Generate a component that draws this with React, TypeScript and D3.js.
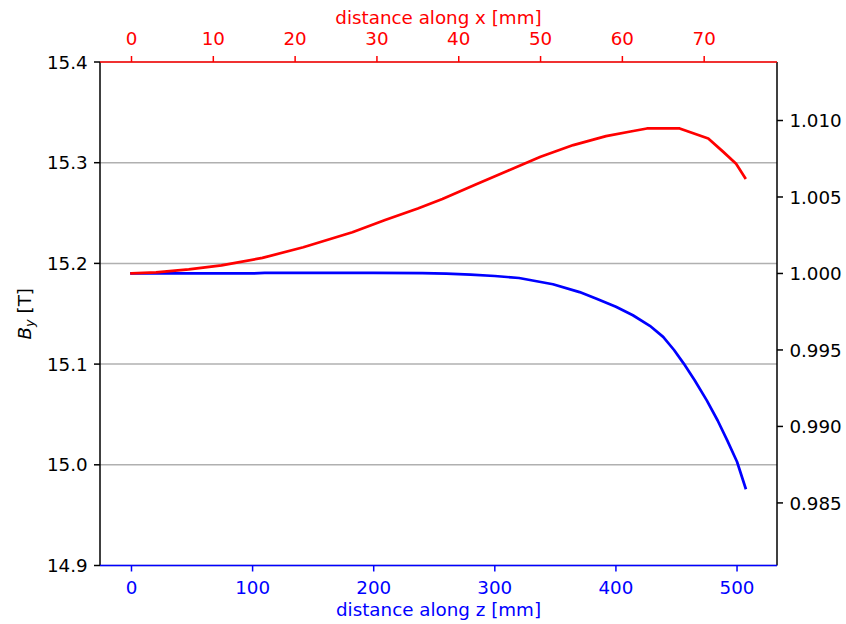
import React from "react";
import * as d3 from "d3";

// Field along z (bottom axis, blue)
const zPos = [0, 50, 100, 110, 150, 200, 240, 260, 280, 300, 320, 348, 370, 384, 400, 414, 428, 439, 448, 456, 465, 475, 484, 492, 500, 507];
const byAlongZ = [15.19, 15.19, 15.19, 15.1905, 15.1905, 15.1905, 15.1904, 15.1898, 15.1888, 15.1875, 15.1855, 15.1793, 15.1715, 15.165, 15.157, 15.1485, 15.138, 15.127, 15.114, 15.1005, 15.084, 15.064, 15.044, 15.024, 15.003, 14.977];

// Field along x (top axis, red)
const xPos = [0, 3, 7, 11, 16, 21, 27, 31, 35, 38, 42, 46, 50, 54, 58, 61, 63, 67, 70.5, 72.3, 73.9, 75];
const byAlongX = [15.19, 15.191, 15.194, 15.198, 15.2055, 15.216, 15.231, 15.243, 15.2546, 15.264, 15.278, 15.292, 15.306, 15.3175, 15.3264, 15.331, 15.334, 15.334, 15.324, 15.311, 15.299, 15.285];

const yTicks = [14.9, 15.0, 15.1, 15.2, 15.3, 15.4];
const zTicks = [0, 100, 200, 300, 400, 500];
const xTicks = [0, 10, 20, 30, 40, 50, 60, 70];
const ratioTicks = [0.985, 0.99, 0.995, 1.0, 1.005, 1.01];
const refField = 15.19;

const W = 846;
const H = 624;
const L = 100;
const R = 777;
const T = 62;
const B = 565.5;
const FONT = "'DejaVu Sans', sans-serif";
const FS = 18.3;
const TICK = 6;
const PAD = 6.4;

export default function App() {
  const zScale = d3.scaleLinear().domain([-26, 533]).range([L, R]);
  const xScale = d3.scaleLinear().domain([-3.85, 78.9]).range([L, R]);
  const yScale = d3.scaleLinear().domain([14.9, 15.4]).range([B, T]);
  const rScale = d3.scaleLinear().domain([14.9 / refField, 15.4 / refField]).range([B, T]);

  const blueLine = d3
    .line<number>()
    .x((_, i) => zScale(zPos[i]))
    .y((d) => yScale(d))(byAlongZ);
  const redLine = d3
    .line<number>()
    .x((_, i) => xScale(xPos[i]))
    .y((d) => yScale(d))(byAlongX);

  return (
    <svg
      width={W}
      height={H}
      style={{ position: "absolute", left: 0, top: 0, background: "#fff" }}
      fontFamily={FONT}
    >
      {/* grid */}
      {yTicks.map((t) => (
        <line key={"g" + t} x1={L} x2={R} y1={yScale(t)} y2={yScale(t)} stroke="#b0b0b0" strokeWidth={1.5} />
      ))}

      {/* curves */}
      <path d={blueLine || ""} fill="none" stroke="blue" strokeWidth={2.7} strokeLinejoin="round" strokeLinecap="square" />
      <path d={redLine || ""} fill="none" stroke="red" strokeWidth={2.7} strokeLinejoin="round" strokeLinecap="square" />

      {/* spines */}
      <line x1={L} x2={L} y1={T} y2={B} stroke="#000" strokeWidth={1.5} />
      <line x1={R} x2={R} y1={T} y2={B} stroke="#000" strokeWidth={1.5} />
      <line x1={L} x2={R} y1={T} y2={T} stroke="red" strokeWidth={1.5} />
      <line x1={L} x2={R} y1={B} y2={B} stroke="blue" strokeWidth={1.5} />

      {/* left axis */}
      {yTicks.map((t) => (
        <g key={"l" + t}>
          <line x1={L - TICK} x2={L} y1={yScale(t)} y2={yScale(t)} stroke="#000" strokeWidth={1.5} />
          <text x={L - TICK - PAD} y={yScale(t)} dy="0.36em" textAnchor="end" fontSize={FS} fill="#000">
            {t.toFixed(1)}
          </text>
        </g>
      ))}
      <text
        transform={`translate(30.5, ${(T + B) / 2}) rotate(-90)`}
        textAnchor="middle"
        fontSize={FS}
        fill="#000"
      >
        <tspan fontStyle="italic">B</tspan>
        <tspan fontStyle="italic" fontSize={FS * 0.7} dy="0.3em">y</tspan>
        <tspan dy="-0.21em"> [T]</tspan>
      </text>

      {/* right axis */}
      {ratioTicks.map((t) => (
        <g key={"r" + t}>
          <line x1={R} x2={R + TICK} y1={rScale(t)} y2={rScale(t)} stroke="#000" strokeWidth={1.5} />
          <text x={R + TICK + PAD} y={rScale(t)} dy="0.36em" textAnchor="start" fontSize={FS} fill="#000">
            {t.toFixed(3)}
          </text>
        </g>
      ))}

      {/* bottom axis */}
      {zTicks.map((t) => (
        <g key={"b" + t}>
          <line x1={zScale(t)} x2={zScale(t)} y1={B} y2={B + TICK} stroke="blue" strokeWidth={1.5} />
          <text x={zScale(t)} y={593.5} textAnchor="middle" fontSize={FS} fill="blue">
            {t}
          </text>
        </g>
      ))}
      <text x={(L + R) / 2} y={616} textAnchor="middle" fontSize={FS} fill="blue">
        distance along z [mm]
      </text>

      {/* top axis */}
      {xTicks.map((t) => (
        <g key={"t" + t}>
          <line x1={xScale(t)} x2={xScale(t)} y1={T - TICK} y2={T} stroke="red" strokeWidth={1.5} />
          <text x={xScale(t)} y={45} textAnchor="middle" fontSize={FS} fill="red">
            {t}
          </text>
        </g>
      ))}
      <text x={(L + R) / 2} y={24} textAnchor="middle" fontSize={FS} fill="red">
        distance along x [mm]
      </text>
    </svg>
  );
}
